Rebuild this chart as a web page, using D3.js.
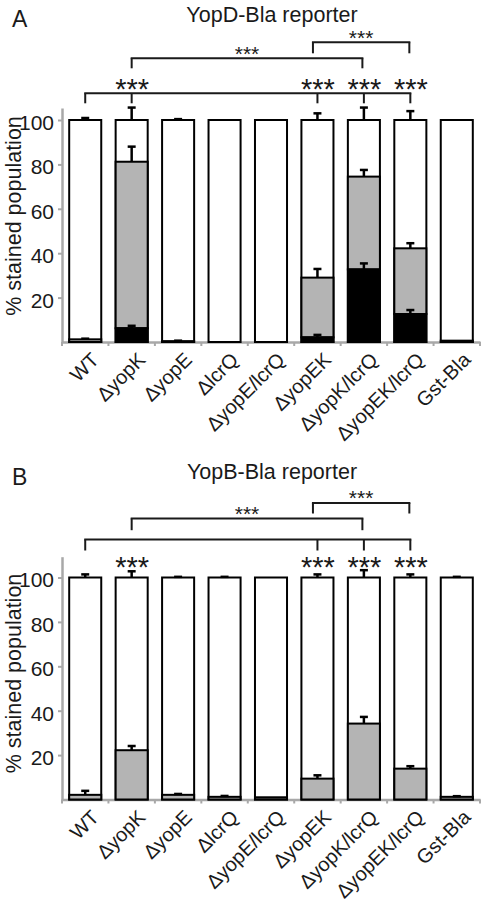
<!DOCTYPE html>
<html>
<head>
<meta charset="utf-8">
<script src="https://cdn.jsdelivr.net/npm/d3@7"></script>
<style>
  html, body { margin: 0; padding: 0; background: #fff; }
  svg { display: block; }
  text { font-family: "Liberation Sans", Arial, Helvetica, sans-serif; fill: #1a1a1a; }
</style>
</head>
<body>
<svg id="chart" width="488" height="912"></svg>
<script>
// ---------- data ----------
const categories = ["WT", "\u0394yopK", "\u0394yopE", "\u0394lcrQ", "\u0394yopE/lcrQ",
                    "\u0394yopEK", "\u0394yopK/lcrQ", "\u0394yopEK/lcrQ", "Gst-Bla"];
const yTicks = [20, 40, 60, 80, 100];

// Panel A: YopD-Bla reporter (segment heights, bottom to top)
const blackA    = [0,   6.2,  0,    0,   0,   2.1,  32.7, 12.6, 0];
const grayA     = [1.2, 75.0, 0.4,  0,   0,   26.9, 41.8, 29.6, 0.6];
const whiteA    = [98.8,18.8, 99.6, 100, 100, 71.0, 25.5, 57.8, 99.4];
const blackErrA = [0,   1.1,  0,    0,   0,   1.1,  2.7,  1.8,  0];
const grayErrA  = [0.3, 6.8,  0.2,  0,   0,   3.9,  3.0,  2.3,  0];
const whiteErrA = [0.9, 5.6,  0.4,  0,   0,   3.0,  5.6,  4.0,  0];

// Panel B: YopB-Bla reporter
const blackB    = [0, 0, 0, 0, 0, 0, 0, 0, 0];
const grayB     = [2.1, 22.2, 2.1,  1.2,  1.0, 9.4,  34.2, 13.9, 1.2];
const whiteB    = [97.9,77.8, 97.9, 98.8, 99.0,90.6, 65.8, 86.1, 98.8];
const blackErrB = [0, 0, 0, 0, 0, 0, 0, 0, 0];
const grayErrB  = [1.8, 1.9,  0.4,  0.4,  0,   1.5,  3.0,  1.1,  0.3];
const whiteErrB = [1.4, 2.8,  0.3,  0.3,  0,   1.4,  3.3,  1.4,  0.3];

const segmentKeys = ["black", "gray", "white"];
const segmentFill = { black: "#000000", gray: "#b4b4b4", white: "#ffffff" };

// ---------- drawing ----------
const svg = d3.select("#chart");
const FONT_TICK = 21, FONT_CAT = 20, FONT_YLAB = 21.5, FONT_TITLE = 21.5;
const AXIS_GRAY = "#a8a8a8";

function drawPanel(cfg) {
  const g = svg.append("g");
  const rows = categories.map((c, i) => ({
    cat: c,
    black: cfg.black[i], gray: cfg.gray[i], white: cfg.white[i],
    err: { black: cfg.blackErr[i], gray: cfg.grayErr[i], white: cfg.whiteErr[i] }
  }));

  const x = d3.scaleBand().domain(categories).range([62, 480])
    .paddingInner(0.31).paddingOuter(0.155);
  const y = d3.scaleLinear().domain([0, 100]).range([cfg.y0, cfg.y100]);
  const yAxisScale = y.copy().domain([0, y.invert(cfg.axisTopPx)]).range([cfg.y0, cfg.axisTopPx]);
  const cx = c => x(c) + x.bandwidth() / 2;

  // title & panel letter
  g.append("text").attr("x", 12).attr("y", cfg.y100 - 93)
    .attr("font-size", 23).text(cfg.letter);
  g.append("text").attr("x", 272).attr("y", cfg.y100 - 98.5)
    .attr("text-anchor", "middle").attr("font-size", FONT_TITLE).text(cfg.title);

  // y axis
  const yAxis = g.append("g").attr("transform", "translate(62,0)")
    .call(d3.axisLeft(yAxisScale).tickValues(yTicks).tickSize(4).tickPadding(4).tickSizeOuter(0));
  yAxis.select(".domain").attr("stroke", AXIS_GRAY).attr("stroke-width", 2.5);
  yAxis.selectAll(".tick line").attr("stroke", AXIS_GRAY).attr("stroke-width", 2);
  yAxis.selectAll(".tick text").attr("font-size", FONT_TICK)
    .attr("font-family", "Liberation Sans, Arial, sans-serif").attr("fill", "#1a1a1a")
    .attr("dy", "0.45em");

  // y label
  g.append("text")
    .attr("transform", `translate(20.5,${(cfg.y0 + cfg.y100) / 2 - 15}) rotate(-90)`)
    .attr("text-anchor", "middle").attr("font-size", FONT_YLAB)
    .text("% stained population");

  // x axis line + boundary ticks
  const xAxis = g.append("g").attr("transform", `translate(0,${cfg.y0})`)
    .call(d3.axisBottom(x).tickSize(0).tickFormat("").tickSizeOuter(0));
  xAxis.select(".domain").attr("stroke", AXIS_GRAY).attr("stroke-width", 2.5);
  const bounds = d3.range(categories.length + 1).map(i => x.range()[0] + i * x.step());
  g.append("g").selectAll("line").data(bounds).join("line")
    .attr("x1", d => d).attr("x2", d => d)
    .attr("y1", cfg.y0).attr("y2", cfg.y0 + 4)
    .attr("stroke", AXIS_GRAY).attr("stroke-width", 2);

  // category labels, rotated -45 degrees, ending under each bar
  g.append("g").selectAll("text").data(categories).join("text")
    .attr("transform", d => `translate(${cx(d) + 15},${cfg.y0 + 19}) rotate(-45)`)
    .attr("text-anchor", "end").attr("font-size", FONT_CAT)
    .text(d => d);

  // stacked bars
  const series = d3.stack().keys(segmentKeys)(rows);
  ["white", "gray", "black"].forEach(k => {
    const s = series.find(se => se.key === k);
    const isWhite = k === "white";
    g.append("g").selectAll("rect").data(s.filter(d => (d[1] - d[0]) > 0)).join("rect")
      .attr("x", d => x(d.data.cat))
      .attr("width", x.bandwidth())
      .attr("y", d => y(d[1]))
      .attr("height", d => y(isWhite ? 0 : d[0]) - y(d[1]))
      .attr("fill", segmentFill[k])
      .attr("stroke", "#000").attr("stroke-width", 2);
  });

  // error bars (upward only)
  segmentKeys.forEach(k => {
    const s = series.find(se => se.key === k);
    const eb = g.append("g").selectAll("g").data(s.filter(d => d.data.err[k] > 0)).join("g");
    eb.append("line")
      .attr("x1", d => cx(d.data.cat)).attr("x2", d => cx(d.data.cat))
      .attr("y1", d => y(d[1])).attr("y2", d => y(d[1] + d.data.err[k]))
      .attr("stroke", "#000").attr("stroke-width", 2.5);
    eb.append("line")
      .attr("x1", d => cx(d.data.cat) - 4).attr("x2", d => cx(d.data.cat) + 4)
      .attr("y1", d => y(d[1] + d.data.err[k])).attr("y2", d => y(d[1] + d.data.err[k]))
      .attr("stroke", "#000").attr("stroke-width", 2.5);
  });

  // significance brackets
  const bg = g.append("g").attr("fill", "none").attr("stroke", "#1a1a1a").attr("stroke-width", 2);
  cfg.brackets.forEach(b => {
    const ly = cfg.y100 + b.dy;
    const dropY = cfg.y100 + b.dropDy;
    const x1 = cx(b.from) + (b.fromDx || 0), x2 = cx(b.to) + (b.toDx || 0);
    bg.append("line").attr("x1", x1 - 1).attr("x2", x2 + 1).attr("y1", ly).attr("y2", ly);
    b.drops.forEach(c => {
      const xx = c === b.from ? x1 : (c === b.to ? x2 : cx(c));
      bg.append("line").attr("x1", xx).attr("x2", xx).attr("y1", ly).attr("y2", dropY);
    });
    if (b.label) {
      const fs = 21;
      g.append("text").attr("x", (x1 + x2) / 2).attr("y", cfg.y100 + b.labelDy + 0.57 * fs)
        .attr("text-anchor", "middle").attr("font-size", fs).text(b.label);
    }
  });
  // big stars over individual strains
  const fsBig = 29;
  g.append("g").selectAll("text").data(cfg.starred).join("text")
    .attr("x", d => cx(d) + 0.5).attr("y", cfg.y100 + cfg.starDy + 0.57 * fsBig)
    .attr("text-anchor", "middle").attr("font-size", fsBig).text("***");
}

drawPanel({
  letter: "A", title: "YopD-Bla reporter",
  y0: 342, y100: 120, axisTopPx: 108,
  black: blackA, gray: grayA, white: whiteA,
  blackErr: blackErrA, grayErr: grayErrA, whiteErr: whiteErrA,
  starred: ["\u0394yopK", "\u0394yopEK", "\u0394yopK/lcrQ", "\u0394yopEK/lcrQ"],
  starDy: -37.3,
  brackets: [
    { from: "WT", to: "\u0394yopEK/lcrQ", dy: -26.7, dropDy: -16.7,
      drops: ["WT", "\u0394yopK", "\u0394yopEK", "\u0394yopK/lcrQ", "\u0394yopEK/lcrQ"] },
    { from: "\u0394yopK", to: "\u0394yopK/lcrQ", dy: -61.7, dropDy: -51.7, toDx: -1.5,
      drops: ["\u0394yopK", "\u0394yopK/lcrQ"], label: "***", labelDy: -70.7 },
    { from: "\u0394yopEK", to: "\u0394yopEK/lcrQ", dy: -77.7, dropDy: -66.7, fromDx: -4.5, toDx: -1,
      drops: ["\u0394yopEK", "\u0394yopEK/lcrQ"], label: "***", labelDy: -86.7 }
  ]
});

drawPanel({
  letter: "B", title: "YopB-Bla reporter",
  y0: 799.5, y100: 577.5, axisTopPx: 556.7,
  black: blackB, gray: grayB, white: whiteB,
  blackErr: blackErrB, grayErr: grayErrB, whiteErr: whiteErrB,
  starred: ["\u0394yopK", "\u0394yopEK", "\u0394yopK/lcrQ", "\u0394yopEK/lcrQ"],
  starDy: -17.3,
  brackets: [
    { from: "WT", to: "\u0394yopEK/lcrQ", dy: -38, dropDy: -27,
      drops: ["WT", "\u0394yopEK", "\u0394yopK/lcrQ", "\u0394yopEK/lcrQ"] },
    { from: "\u0394yopK", to: "\u0394yopK/lcrQ", dy: -59, dropDy: -47.3, toDx: -1.5,
      drops: ["\u0394yopK", "\u0394yopK/lcrQ"], label: "***", labelDy: -68.3 },
    { from: "\u0394yopEK", to: "\u0394yopEK/lcrQ", dy: -74.6, dropDy: -64, fromDx: -4.5, toDx: -1,
      drops: ["\u0394yopEK", "\u0394yopEK/lcrQ"], label: "***", labelDy: -84 }
  ]
});
</script>
</body>
</html>
